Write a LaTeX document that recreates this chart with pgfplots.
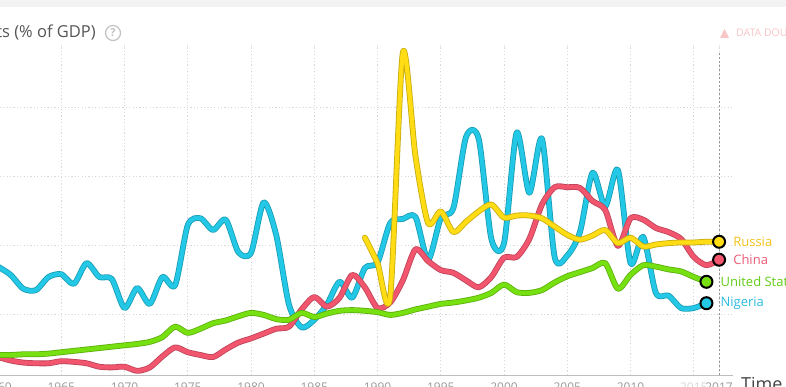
\documentclass[border=0pt]{standalone}
\usepackage{pgfplots}
\pgfplotsset{compat=1.18}
\usepackage{fontspec}
\setmainfont{Open Sans}
\definecolor{nig}{HTML}{22C8E6}
\definecolor{chn}{HTML}{F2566F}
\definecolor{usa}{HTML}{76E010}
\definecolor{rus}{HTML}{FFDC14}
\definecolor{nigtxt}{HTML}{2BBCE0}
\definecolor{chntxt}{HTML}{EE5C76}
\definecolor{usatxt}{HTML}{62CC16}
\definecolor{rustxt}{HTML}{F2C21A}
\definecolor{gridc}{HTML}{D8D8D8}
\definecolor{axisc}{HTML}{BDBDBD}
\definecolor{tickc}{HTML}{9A9A9A}
\definecolor{titlec}{HTML}{555555}
\definecolor{topband}{HTML}{F3F3F3}
\definecolor{doubt}{HTML}{F8C6C6}
\tikzset{
  ser/.style={line width=4.2pt, color=#1, line cap=round, line join=round,
    preaction={draw, line width=5.8pt, color=#1!78!black, line cap=round, line join=round}},
}
\begin{document}
\begin{tikzpicture}[x=1pt,y=1pt]
\useasboundingbox (0,0) rectangle (786,386);
\clip (0,0) rectangle (786,386);
\fill[white] (0,0) rectangle (786,386);
\fill[topband] (0,379) rectangle (786,386);
\begin{axis}[
  scale only axis, width=760.3pt, height=330pt,
  at={(-27.3pt,11pt)}, anchor=south west,
  xmin=1958, xmax=2018.1, ymin=1.3, ymax=49.1,
  axis lines=left, axis line style={-, draw=axisc, line width=1pt},
  y axis line style={draw=none},
  xtick={1960,1965,1970,1975,1980,1985,1990,1995,2000,2005,2010,2015,2017},
  xticklabels={1960,1965,1970,1975,1980,1985,1990,1995,2000,2005,2010,{\textcolor{gridc}{2015}},2017},
  ytick={10,20,30,40}, yticklabels={},
  tick style={draw=none},
  xmajorgrids, ymajorgrids,
  grid style={gridc, line width=0.9pt, dash pattern=on 1.2pt off 2.2pt},
  xticklabel style={font=\fontsize{12}{12}\selectfont, text=tickc, inner sep=2pt, yshift=-3.5pt},
  clip=false,
]
\draw[axisc!80!black, line width=0.9pt, dash pattern=on 2pt off 2pt] (axis cs:2017,1.3) -- (axis cs:2017,48);
% Nigeria
\addplot[ser=nig, smooth, tension=0.45] coordinates {
(1960,17.0)(1961,15.8)(1962,13.8)(1963,13.6)(1964,15.5)(1965,15.9)(1966,14.5)(1967,17.5)(1968,15.5)(1969,15.2)
(1970,11.0)(1971,13.9)(1972,11.6)(1973,15.5)(1974,14.3)(1975,23.0)(1976,24.0)(1977,22.3)(1978,23.8)(1979,19.1)
(1980,19.0)(1981,26.3)(1982,21.5)(1983,11.5)(1984,8.2)(1985,9.3)(1986,11.5)(1987,14.8)(1988,12.5)(1989,16.8)
(1990,17.6)(1991,23.3)(1992,23.9)(1993,24.2)(1994,18.0)(1995,24.0)(1996,25.5)(1997,35.8)(1998,35.5)(1999,21.0)
(2000,20.4)(2001,36.4)(2002,27.7)(2003,35.5)(2004,18.4)(2005,18.6)(2006,22.0)(2007,30.6)(2008,25.7)(2009,31.0)
(2010,17.5)(2011,21.3)(2012,13.2)(2013,12.8)(2014,11.0)(2015,11.0)(2016,11.7)};
% China
\addplot[ser=chn, smooth, tension=0.45] coordinates {
(1960,3.9)(1961,3.4)(1962,3.1)(1963,3.0)(1964,3.0)(1965,3.3)(1966,3.2)(1967,3.0)(1968,2.5)(1969,2.4)
(1970,2.5)(1971,1.9)(1972,2.4)(1973,4.0)(1974,5.3)(1975,4.6)(1976,4.2)(1977,3.9)(1978,5.0)(1979,6.0)
(1980,6.6)(1981,7.3)(1982,8.0)(1983,8.3)(1984,10.8)(1985,12.6)(1986,11.2)(1987,12.5)(1988,15.8)(1989,14.0)
(1990,11.0)(1991,11.8)(1992,15.0)(1993,19.5)(1994,17.8)(1995,16.5)(1996,16.1)(1997,15.0)(1998,14.0)(1999,15.5)
(2000,18.3)(2001,18.4)(2002,21.0)(2003,26.0)(2004,28.5)(2005,28.5)(2006,28.4)(2007,26.5)(2008,25.2)(2009,20.0)
(2010,24.0)(2011,23.8)(2012,22.6)(2013,22.0)(2014,21.0)(2015,18.4)(2016,17.2)(2017,18.0)};
% United States
\addplot[ser=usa, smooth, tension=0.45] coordinates {
(1960,4.2)(1961,4.2)(1962,4.3)(1963,4.3)(1964,4.4)(1965,4.6)(1966,4.8)(1967,5.0)(1968,5.2)(1969,5.4)
(1970,5.6)(1971,5.8)(1972,6.1)(1973,6.8)(1974,8.3)(1975,7.4)(1976,8.0)(1977,8.8)(1978,9.2)(1979,9.8)
(1980,10.3)(1981,10.0)(1982,9.4)(1983,9.3)(1984,10.3)(1985,9.7)(1986,10.2)(1987,10.6)(1988,10.7)(1989,10.6)
(1990,10.4)(1991,10.0)(1992,10.3)(1993,10.8)(1994,11.2)(1995,11.6)(1996,11.8)(1997,12.1)(1998,12.5)(1999,13.2)
(2000,14.4)(2001,13.3)(2002,13.2)(2003,13.6)(2004,14.7)(2005,15.6)(2006,16.2)(2007,16.8)(2008,17.5)(2009,13.8)
(2010,15.8)(2011,17.2)(2012,17.0)(2013,16.6)(2014,16.3)(2015,15.5)(2016,14.8)};
% Russia
\addplot[ser=rus, smooth, tension=0.45] coordinates {
(1989,21.2)(1990,17.5)(1991,12.6)(1992,48.0)(1993,33.0)(1994,23.3)(1995,25.0)(1996,22.0)(1997,23.5)(1998,25.0)
(1999,26.0)(2000,24.1)(2001,24.4)(2002,24.4)(2003,24.0)(2004,22.8)(2005,21.6)(2006,20.9)(2007,21.5)(2008,22.3)
(2009,20.4)(2010,21.2)(2011,19.9)(2012,20.2)(2013,20.4)(2014,20.5)(2015,20.5)(2016,20.6)(2017,20.6)};
% end markers
\addplot[only marks, mark=*, mark size=6pt, mark options={fill=nig, draw=black, line width=2pt}] coordinates {(2016,11.7)};
\addplot[only marks, mark=*, mark size=6pt, mark options={fill=usa, draw=black, line width=2pt}] coordinates {(2016,14.8)};
\addplot[only marks, mark=*, mark size=6pt, mark options={fill=chn, draw=black, line width=2pt}] coordinates {(2017,18.0)};
\addplot[only marks, mark=*, mark size=6pt, mark options={fill=rus, draw=black, line width=2pt}] coordinates {(2017,20.6)};
\node[anchor=west, text=rustxt, font=\fontsize{13}{13}\selectfont, inner sep=0pt] at (axis cs:2017,20.6) [xshift=14pt] {Russia};
\node[anchor=west, text=chntxt, font=\fontsize{13}{13}\selectfont, inner sep=0pt] at (axis cs:2017,18.0) [xshift=14pt] {China};
\node[anchor=west, text=usatxt, font=\fontsize{13}{13}\selectfont, inner sep=0pt] at (axis cs:2016,14.8) [xshift=14pt] {United States};
\node[anchor=west, text=nigtxt, font=\fontsize{13}{13}\selectfont, inner sep=0pt] at (axis cs:2016,11.7) [xshift=14pt] {Nigeria};
\end{axis}
\node[anchor=base east, text=titlec, font=\fontsize{16.5}{16.5}\selectfont, inner sep=0pt] at (96,348) {Imports (\% of GDP)};
\draw[gridc!90!black, line width=1.2pt] (113,353) circle (7.5);
\node[text=gridc!90!black, font=\fontsize{11}{11}\selectfont\bfseries] at (113,353) {?};
\node[anchor=base west, text=titlec!80!black, font=\fontsize{18}{18}\selectfont, inner sep=0pt] at (741,-4) {Time};
\fill[doubt] (720,348) -- (729,348) -- (724.5,357) -- cycle;
\node[anchor=base west, text=doubt, font=\fontsize{10.5}{10.5}\selectfont, inner sep=0pt] at (736,349) {DATA DOUBTS};
\end{tikzpicture}
\end{document}
